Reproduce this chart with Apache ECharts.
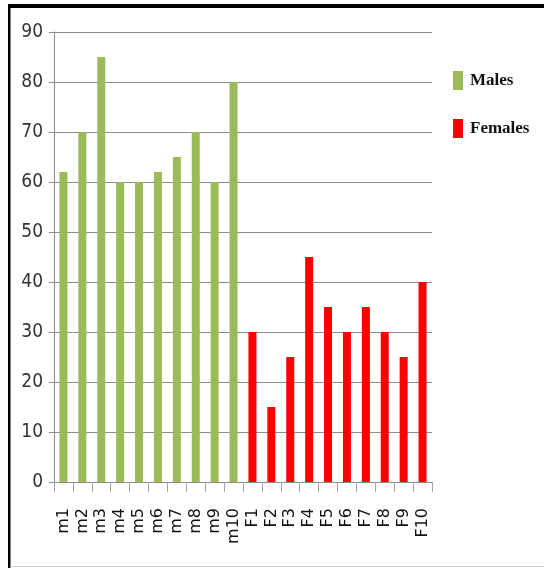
<!DOCTYPE html>
<html>
<head>
<meta charset="utf-8">
<script src="https://cdn.jsdelivr.net/npm/echarts@6/dist/echarts.min.js"></script>
<style>
  html, body { margin: 0; padding: 0; background: #fff; }
  #main { width: 544px; height: 568px; }
</style>
</head>
<body>
<div id="main"></div>
<script>
// categories along the x axis
var categories = ["m1", "m2", "m3", "m4", "m5", "m6", "m7", "m8", "m9", "m10",
                  "F1", "F2", "F3", "F4", "F5", "F6", "F7", "F8", "F9", "F10"];
// values
var males   = [62, 70, 85, 60, 60, 62, 65, 70, 60, 80];
var females = [30, 15, 25, 45, 35, 30, 35, 30, 25, 40];
var yTicks  = { min: 0, max: 90, interval: 10 };

// each series only fills its own half of the categories
var maleData = categories.map(function (c, i) { return i < males.length ? males[i] : null; });
var femaleData = categories.map(function (c, i) {
  return i >= males.length ? females[i - males.length] : null;
});

var chart = echarts.init(document.getElementById("main"));
chart.setOption({
  animation: false,
  backgroundColor: "#fff",
  grid: { left: 54, right: 112, top: 32, bottom: 86 },
  legend: {
    orient: "vertical",
    left: 448,
    top: 66,
    itemWidth: 10,
    itemHeight: 19,
    itemGap: 29,
    icon: "rect",
    textStyle: {
      fontFamily: "'Liberation Serif', 'DejaVu Serif', serif",
      fontWeight: "bold",
      fontSize: 17,
      color: "#111",
      padding: [0, 0, 0, 2]
    },
    data: ["Males", "Females"]
  },
  xAxis: {
    type: "category",
    data: categories,
    axisLine: { lineStyle: { color: "#8c8c8c", width: 1 } },
    axisTick: { show: true, length: 10, alignWithLabel: false, lineStyle: { color: "#a6a6a6" } },
    axisLabel: {
      rotate: 90,
      interval: 0,
      margin: 26,
      fontFamily: "'DejaVu Sans', sans-serif",
      fontSize: 16,
      color: "#111"
    }
  },
  yAxis: {
    type: "value",
    min: yTicks.min,
    max: yTicks.max,
    interval: yTicks.interval,
    axisLine: { show: true, lineStyle: { color: "#8c8c8c" } },
    axisTick: { show: true, length: 5, lineStyle: { color: "#8c8c8c" } },
    splitLine: { lineStyle: { color: "#8c8c8c", width: 1 } },
    axisLabel: {
      margin: 11,
      fontFamily: "'DejaVu Sans Condensed', 'DejaVu Sans', sans-serif",
      fontWeight: "normal condensed",
      fontSize: 19,
      color: "#333"
    }
  },
  series: [
    {
      name: "Males",
      type: "bar",
      data: maleData,
      barWidth: 8,
      barGap: "-100%",
      itemStyle: { color: "#9bbb59" }
    },
    {
      name: "Females",
      type: "bar",
      data: femaleData,
      barWidth: 8,
      itemStyle: { color: "#ff0000" }
    }
  ],
  graphic: [
    { type: "rect", shape: { x: 8, y: 4, width: 536, height: 4 }, style: { fill: "#000" } },
    { type: "rect", shape: { x: 8, y: 4, width: 2.5, height: 564 }, style: { fill: "#000" } },
    { type: "rect", shape: { x: 10, y: 566, width: 534, height: 1 }, style: { fill: "#cfcfcf" } }
  ]
});
</script>
</body>
</html>
